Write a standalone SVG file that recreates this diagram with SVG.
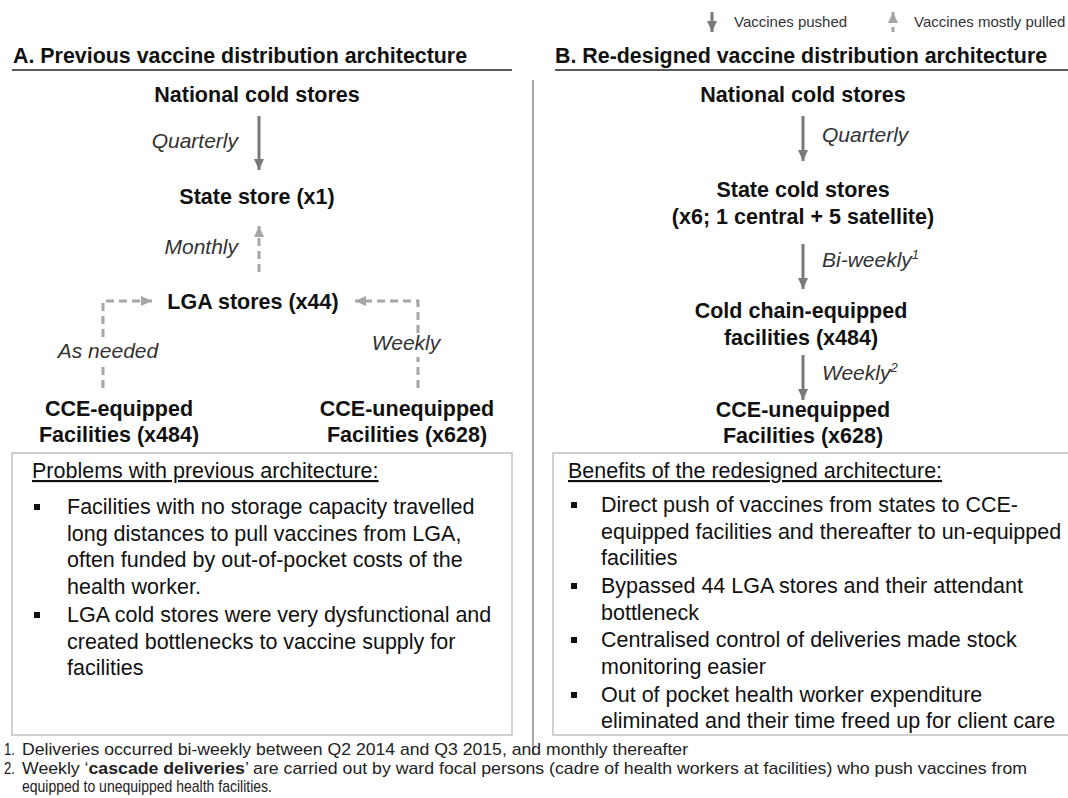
<svg xmlns="http://www.w3.org/2000/svg" width="1068" height="798" viewBox="0 0 1068 798">
<style>
text{font-family:"Liberation Sans",Arial,sans-serif;fill:#111}
.title{font-size:21.4px;font-weight:bold}
.node{font-size:21.5px;font-weight:bold;text-anchor:middle}
.lbl{font-size:21px;font-style:italic;fill:#333}
.body{font-size:21.5px}
.leg{font-size:15px;fill:#333}
.fn{font-size:17px;fill:#222}
.push{stroke:#7a7a7a;stroke-width:3;fill:none}
.pull{stroke:#a6a6a6;stroke-width:3;fill:none;stroke-dasharray:8 5}
.box{fill:#fff;stroke:#c0c0c0;stroke-width:1.5}
.rule{stroke:#222;stroke-width:1.5}
</style>
<defs>
<marker id="hPush" markerUnits="userSpaceOnUse" markerWidth="12" markerHeight="12" refX="11" refY="6" orient="auto">
<path d="M0,1 L11,6 L0,11 z" fill="#7a7a7a"/>
</marker>
<marker id="hPull" markerUnits="userSpaceOnUse" markerWidth="12" markerHeight="12" refX="11" refY="6" orient="auto">
<path d="M0,1 L11,6 L0,11 z" fill="#a6a6a6"/>
</marker>
</defs>
<rect width="1068" height="798" fill="#fff"/>

<g id="legend">
<line class="push" x1="712" y1="12" x2="712" y2="32" marker-end="url(#hPush)"/>
<text class="leg" x="734" y="27">Vaccines pushed</text>
<line x1="893" y1="32" x2="893" y2="27" stroke="#a6a6a6" stroke-width="3"/>
<line x1="893" y1="23" x2="893" y2="12" stroke="#a6a6a6" stroke-width="3" marker-end="url(#hPull)"/>
<text class="leg" x="914" y="27">Vaccines mostly pulled</text>
</g>

<g id="headers">
<text class="title" x="13" y="63">A. Previous vaccine distribution architecture</text>
<line class="rule" x1="12" y1="70" x2="512" y2="70"/>
<text class="title" x="555" y="63">B. Re-designed vaccine distribution architecture</text>
<line class="rule" x1="555" y1="70" x2="1068" y2="70"/>
<line x1="533" y1="80" x2="533" y2="755" stroke="#888" stroke-width="1.5"/>
</g>

<g id="connectors">
<line class="push" x1="259" y1="116" x2="259" y2="170" marker-end="url(#hPush)"/>
<line class="pull" x1="259" y1="272" x2="259" y2="226" marker-end="url(#hPull)"/>
<path class="pull" d="M103,388 V366"/>
<path class="pull" d="M103,337 V301 H152" marker-end="url(#hPull)"/>
<path class="pull" d="M418,388 V357"/>
<path class="pull" d="M418,333 V301 H355" marker-end="url(#hPull)"/>
<line class="push" x1="803" y1="116" x2="803" y2="161" marker-end="url(#hPush)"/>
<line class="push" x1="803" y1="244" x2="803" y2="289" marker-end="url(#hPush)"/>
<line class="push" x1="803" y1="355" x2="803" y2="400" marker-end="url(#hPush)"/>
</g>

<g id="conn-labels">
<text class="lbl" x="238" y="148" text-anchor="end">Quarterly</text>
<text class="lbl" x="238" y="254" text-anchor="end">Monthly</text>
<text class="lbl" x="108" y="358" text-anchor="middle">As needed</text>
<text class="lbl" x="406" y="350" text-anchor="middle">Weekly</text>
<text class="lbl" x="822" y="142">Quarterly</text>
<text class="lbl" x="822" y="267">Bi-weekly<tspan font-size="13" dy="-8">1</tspan></text>
<text class="lbl" x="822" y="380">Weekly<tspan font-size="13" dy="-8">2</tspan></text>
</g>

<g id="a-national"><text class="node" x="257" y="102">National cold stores</text></g>
<g id="a-state"><text class="node" x="257" y="204">State store (x1)</text></g>
<g id="a-lga"><text class="node" x="253" y="309">LGA stores (x44)</text></g>
<g id="a-cce-eq"><text class="node" x="119" y="416">CCE-equipped</text><text class="node" x="119" y="442">Facilities (x484)</text></g>
<g id="a-cce-uneq"><text class="node" x="407" y="416">CCE-unequipped</text><text class="node" x="407" y="442">Facilities (x628)</text></g>

<g id="b-national"><text class="node" x="803" y="102">National cold stores</text></g>
<g id="b-state"><text class="node" x="803" y="197">State cold stores</text><text class="node" x="803" y="224">(x6; 1 central + 5 satellite)</text></g>
<g id="b-cce-eq"><text class="node" x="801" y="318">Cold chain-equipped</text><text class="node" x="801" y="345">facilities (x484)</text></g>
<g id="b-cce-uneq"><text class="node" x="803" y="417">CCE-unequipped</text><text class="node" x="803" y="443">Facilities (x628)</text></g>

<g id="problems-box">
<rect class="box" x="12" y="453" width="500" height="282"/>
<text class="body" x="32" y="478" text-decoration="underline">Problems with previous architecture:</text>
<rect x="34" y="504" width="6" height="6" fill="#111"/>
<text class="body" x="67" y="514">Facilities with no storage capacity travelled</text>
<text class="body" x="67" y="540.5">long distances to pull vaccines from LGA,</text>
<text class="body" x="67" y="567">often funded by out-of-pocket costs of the</text>
<text class="body" x="67" y="593.5">health worker.</text>
<rect x="34" y="612" width="6" height="6" fill="#111"/>
<text class="body" x="67" y="622">LGA cold stores were very dysfunctional and</text>
<text class="body" x="67" y="648.5">created bottlenecks to vaccine supply for</text>
<text class="body" x="67" y="675">facilities</text>
</g>

<g id="benefits-box">
<rect class="box" x="553" y="453" width="520" height="282"/>
<text class="body" x="568" y="478" text-decoration="underline">Benefits of the redesigned architecture:</text>
<rect x="571" y="502" width="6" height="6" fill="#111"/>
<text class="body" x="601" y="512">Direct push of vaccines from states to CCE-</text>
<text class="body" x="601" y="538.5">equipped facilities and thereafter to un-equipped</text>
<text class="body" x="601" y="565">facilities</text>
<rect x="571" y="583" width="6" height="6" fill="#111"/>
<text class="body" x="601" y="593">Bypassed 44 LGA stores and their attendant</text>
<text class="body" x="601" y="619.5">bottleneck</text>
<rect x="571" y="637" width="6" height="6" fill="#111"/>
<text class="body" x="601" y="647">Centralised control of deliveries made stock</text>
<text class="body" x="601" y="673.5">monitoring easier</text>
<rect x="571" y="692" width="6" height="6" fill="#111"/>
<text class="body" x="601" y="702">Out of pocket health worker expenditure</text>
<text class="body" x="601" y="728">eliminated and their time freed up for client care</text>
</g>

<g id="footnotes">
<text class="fn" x="4" y="755" textLength="11" lengthAdjust="spacingAndGlyphs">1.</text>
<text class="fn" x="22" y="755" textLength="666" lengthAdjust="spacingAndGlyphs">Deliveries occurred bi-weekly between Q2 2014 and Q3 2015, and monthly thereafter</text>
<text class="fn" x="4" y="774" textLength="11" lengthAdjust="spacingAndGlyphs">2.</text>
<text class="fn" x="22" y="774" textLength="1005" lengthAdjust="spacingAndGlyphs">Weekly ‘<tspan font-weight="bold">cascade deliveries</tspan>’ are carried out by ward focal persons (cadre of health workers at facilities) who push vaccines from</text>
<text class="fn" x="22" y="792" textLength="250" lengthAdjust="spacingAndGlyphs">equipped to unequipped health facilities.</text>
</g>
</svg>
